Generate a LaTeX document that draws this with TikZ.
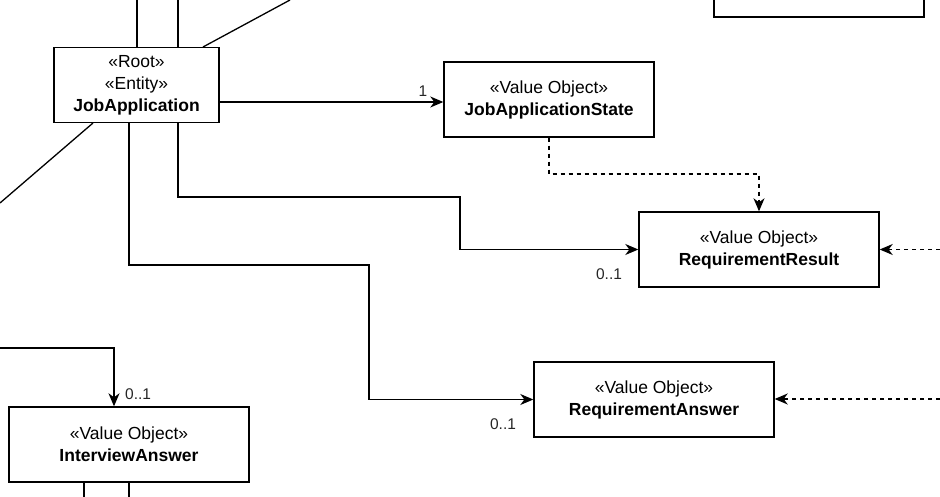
\documentclass[tikz,border=0pt]{standalone}
\usepackage{fontspec}
\setmainfont{Liberation Sans}
\usetikzlibrary{arrows.meta,calc}
\tikzset{
  cls/.style={draw=black, line width=1.4pt, fill=white, rectangle, align=center, inner sep=0pt,
    font=\fontsize{17.5}{22}\selectfont},
  conn/.style={draw=black, line width=1.3pt},
  arr/.style={conn, -{Stealth[length=13pt,width=11pt,inset=4pt]}},
  darr/.style={arr, dash pattern=on 4pt off 4pt},
  mult/.style={font=\fontsize{15.5}{18}\selectfont, inner sep=0pt, text=black!85}
}
\begin{document}
\begin{tikzpicture}[x=1pt,y=-1pt]
\useasboundingbox (0,0) rectangle (940,497);
\clip (0,0) rectangle (940,497);
% nodes
\node[cls, minimum width=165pt, minimum height=75pt] (ja) at (136.5,85) {«Root»\\«Entity»\\\textbf{JobApplication}};
\node[cls, minimum width=210pt, minimum height=75pt] (jas) at (549,99.5) {«Value Object»\\\textbf{JobApplicationState}};
\node[cls, minimum width=240pt, minimum height=75pt] (rr) at (759,249.5) {«Value Object»\\\textbf{RequirementResult}};
\node[cls, minimum width=240pt, minimum height=75pt] (ra) at (654,399.5) {«Value Object»\\\textbf{RequirementAnswer}};
\node[cls, minimum width=240pt, minimum height=75pt] (ia) at (129,444.5) {«Value Object»\\\textbf{InterviewAnswer}};
\node[cls, minimum width=210pt, minimum height=75pt] (tr) at (819,-20.5) {};
% free ends
\coordinate (t1) at (137,0);
\coordinate (t2) at (178,0);
\coordinate (d1) at (290,0);
\coordinate (d2) at (203,47);
\coordinate (d3) at (93,123);
\coordinate (d4) at (0,203);
\coordinate (rin) at (940,249.5);
\coordinate (ain) at (940,399);
\coordinate (lin) at (0,348);
\coordinate (b1) at (84,497);
\coordinate (b2) at (129,497);
% connectors
\draw[conn] (t1) -- (t1 |- ja.north);
\draw[conn] (t2) -- (t2 |- ja.north);
\draw[conn] (d1) -- (d2);
\draw[conn] (d3) -- (d4);
\draw[arr] (ja.east |- 0,102) -- (jas.west |- 0,102);
\node[mult] (m1) at (423,91) {1};
\draw[arr] (t2 |- ja.south) -- (178,197) -- (460,197) |- (rr.west);
\node[mult] (m2) at (609,274) {0..1};
\draw[arr] (129,122.5) -- (129,265) -- (369,265) |- (ra.west);
\node[mult] (m3) at (503,424) {0..1};
\draw[darr] (jas.south) -- (549,174) -| (rr.north);
\draw[darr] (rin) -- (rr.east);
\draw[darr] (ain) -- (ra.east |- ain);
\draw[arr] (lin) -- (114,348) -- (114,348 |- ia.north);
\node[mult, anchor=west] (m4) at (125,394) {0..1};
\draw[conn] (b1) -- (b1 |- ia.south);
\draw[conn] (b2) -- (b2 |- ia.south);
\end{tikzpicture}
\end{document}
